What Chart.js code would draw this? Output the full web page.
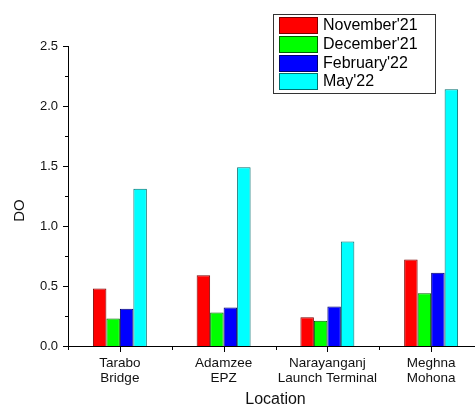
<!DOCTYPE html>
<html>
<head>
<meta charset="utf-8">
<script src="https://cdn.jsdelivr.net/npm/chart.js@4/dist/chart.umd.min.js"></script>
<style>
html,body{margin:0;padding:0;overflow:hidden;background:#fff;width:475px;height:406px;}
canvas{display:block;}
</style>
</head>
<body>
<canvas id="c" width="490" height="406"></canvas>
<script>
const categories = [["Tarabo","Bridge"],["Adamzee","EPZ"],["Narayanganj","Launch Terminal"],["Meghna","Mohona"]];
const seriesNames = ["November'21","December'21","February'22","May'22"];
const nov21 = [0.48, 0.59, 0.24, 0.72];
const dec21 = [0.23, 0.28, 0.21, 0.44];
const feb22 = [0.31, 0.32, 0.33, 0.61];
const may22 = [1.31, 1.49, 0.87, 2.14];
const yTicks = [0, 0.5, 1.0, 1.5, 2.0, 2.5];
const fills = ['#ff0000','#00ff00','#0000ff','#00ffff'];
const edges = ['#7a0000','#006000','#00006a','#007070'];
const FONT = "'Liberation Sans', Arial, sans-serif";

const seriesValues = [nov21, dec21, feb22, may22];

const tickPlugin = {
  id: 'ticks',
  afterDraw(chart) {
    const ctx = chart.ctx, x = chart.scales.x, y = chart.scales.y, a = chart.chartArea;
    ctx.save();
    ctx.strokeStyle = '#000';
    ctx.lineWidth = 1;
    ctx.beginPath();
    for (let v = 0; v <= 2.5001; v += 0.25) {
      const py = Math.round(y.getPixelForValue(v)) + 0.5;
      const major = Math.abs(v / 0.5 - Math.round(v / 0.5)) < 1e-6;
      ctx.moveTo(a.left, py);
      ctx.lineTo(a.left - (major ? 5 : 3), py);
    }
    const n = categories.length;
    const step = x.getPixelForValue(1) - x.getPixelForValue(0);
    for (let i = 0; i < n; i++) {
      const px = Math.round(x.getPixelForValue(i)) + 0.5;
      ctx.moveTo(px, a.bottom);
      ctx.lineTo(px, a.bottom + 6);
    }
    for (let i = 0; i <= n; i++) {
      const px = Math.round(x.getPixelForValue(0) - step / 2 + i * step) + 0.5;
      ctx.moveTo(px, a.bottom);
      ctx.lineTo(px, a.bottom + 4);
    }
    ctx.stroke();

    // legend
    const bx = 273.5, by = 14.5, bw = 162, bh = 79;
    ctx.fillStyle = '#fff';
    ctx.fillRect(bx, by, bw, bh);
    ctx.strokeStyle = '#333';
    ctx.strokeRect(bx, by, bw, bh);
    ctx.font = '16px ' + FONT;
    ctx.textBaseline = 'middle';
    ctx.textAlign = 'left';
    chart.data.datasets.forEach((ds, i) => {
      const top = 17 + i * 18.8;
      ctx.fillStyle = ds.backgroundColor;
      ctx.fillRect(279.5, Math.round(top) + 0.5, 38, 16);
      ctx.strokeStyle = ds.borderColor;
      ctx.strokeRect(279.5, Math.round(top) + 0.5, 38, 16);
      ctx.fillStyle = '#000';
      ctx.fillText(ds.label, 323, top + 8.5);
    });
    ctx.restore();
  }
};

new Chart(document.getElementById('c'), {
  type: 'bar',
  data: {
    labels: categories,
    datasets: seriesNames.map((name, i) => ({
      label: name,
      data: seriesValues[i],
      backgroundColor: fills[i],
      borderColor: edges[i],
      borderWidth: 1,
      borderSkipped: 'bottom',
      categoryPercentage: 0.52,
      barPercentage: 1.0
    }))
  },
  options: {
    responsive: false,
    animation: false,
    layout: { padding: { top: 46, right: 7, left: 0, bottom: 0 } },
    plugins: { legend: { display: false }, tooltip: { enabled: false } },
    scales: {
      x: {
        grid: { display: false, drawTicks: false },
        border: { display: true, color: '#000', width: 1 },
        ticks: { color: '#111', font: { family: FONT, size: 13.5, lineHeight: 1.12 }, padding: 10, maxRotation: 0, autoSkip: false },
        title: { display: true, text: 'Location', color: '#111', font: { family: FONT, size: 16, lineHeight: 1 }, padding: { top: 0, bottom: -2 } },
        afterFit(s) { s.height = 60; }
      },
      y: {
        min: 0, max: 2.5,
        grid: { display: false, drawTicks: false },
        border: { display: true, color: '#000', width: 1 },
        ticks: { stepSize: 0.5, color: '#111', font: { family: FONT, size: 13 }, padding: 10, callback: v => Number(v).toFixed(1) },
        title: { display: true, text: 'DO       ', color: '#111', font: { family: FONT, size: 15, lineHeight: 1.2 }, padding: { top: 11, bottom: 0 } },
        afterFit(s) { s.width = 68; }
      }
    }
  },
  plugins: [tickPlugin]
});
</script>
</body>
</html>
